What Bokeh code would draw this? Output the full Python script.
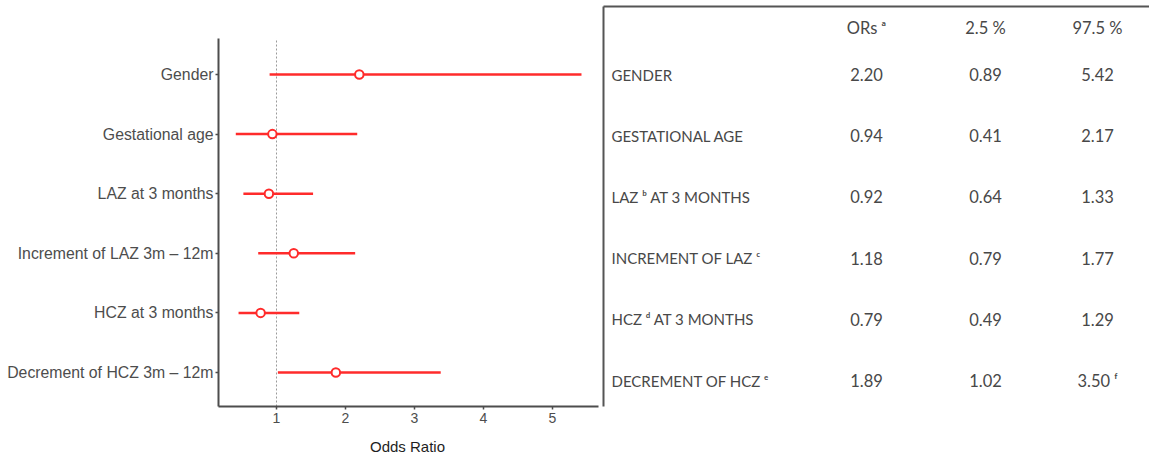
from bokeh.plotting import figure
from bokeh.models import Range1d, FixedTicker, ColumnDataSource, Arrow, Title
from bokeh.core.properties import value
from bokeh.embed import file_html
from bokeh.resources import INLINE

# ---- data ----
variables = ["Gender", "Gestational age", "LAZ at 3 months",
             "Increment of LAZ 3m \u2013 12m", "HCZ at 3 months",
             "Decrement of HCZ 3m \u2013 12m"]
odds = [2.20, 0.94, 0.89, 1.25, 0.77, 1.86]
lower = [0.90, 0.41, 0.52, 0.735, 0.45, 1.02]
upper = [5.42, 2.17, 1.53, 2.14, 1.33, 3.38]
x_ticks = [1, 2, 3, 4, 5]
ref_or = 1
x_title = "Odds Ratio"

table_labels = ["GENDER", "GESTATIONAL AGE", "LAZ \u1d47 AT 3 MONTHS",
                "INCREMENT OF LAZ \u1d9c", "HCZ \u1d48 AT 3 MONTHS",
                "DECREMENT OF HCZ \u1d49"]
table_headers = ["ORs \u1d43", "2.5 %", "97.5 %"]
table_ors = ["2.20", "0.94", "0.92", "1.18", "0.79", "1.89"]
table_lo = ["0.89", "0.41", "0.64", "0.79", "0.49", "1.02"]
table_hi = ["5.42", "2.17", "1.33", "1.77", "1.29", "3.50 \u1da0"]

RED = "#ff2b2b"
GREY = "#4d4d4d"
TXT = "#484848"

n = len(variables)
ypos = [n - i for i in range(n)]

# plot geometry (pixels)
W, H = 1149, 466
LEFT, BOTTOM = 218, 60
x_lo, x_hi = 0.1594, 5.667          # visible part of the odds-ratio axis
y_lo, y_hi = 0.4295, 6.604          # visible part of the category axis
px_per_x = 69.0
px_per_y = 59.6
frame_w = W - LEFT
frame_h = H - BOTTOM
title_w = 77                        # approx. rendered width of the x title

p = figure(width=W, height=H, output_backend="svg", toolbar_location=None,
           title=None,
           x_range=Range1d(x_lo, x_lo + frame_w / px_per_x),
           y_range=Range1d(y_lo, y_lo + frame_h / px_per_y),
           min_border_left=LEFT, min_border_right=0, min_border_top=0,
           min_border_bottom=BOTTOM)
p.outline_line_color = None
p.xgrid.visible = False
p.ygrid.visible = False

# pixel-like ranges for the table on the right
p.extra_x_ranges = {"px": Range1d(LEFT, W)}
p.extra_y_ranges = {"px": Range1d(frame_h, 0)}

# reference line at OR = 1
p.segment(x0=[ref_or], x1=[ref_or], y0=[y_lo], y1=[y_hi], line_color="#9a9a9a",
          line_dash="2 2", line_width=1)

src = ColumnDataSource(dict(y=ypos, odds=odds, lo=lower, hi=upper))
p.segment(x0="lo", x1="hi", y0="y", y1="y", source=src, line_color=RED, line_width=2.5)
p.scatter(x="odds", y="y", source=src, size=8.5, fill_color="white",
          line_color=RED, line_width=2)

p.xaxis.ticker = FixedTicker(ticks=x_ticks)
p.xaxis.bounds = (x_lo, x_hi)
p.yaxis.ticker = FixedTicker(ticks=ypos)
p.yaxis.bounds = (y_lo, y_hi)
p.yaxis.major_label_overrides = {yv: lab for yv, lab in zip(ypos, variables)}
for ax in (p.xaxis, p.yaxis):
    ax.axis_line_color = GREY
    ax.axis_line_width = 2
    ax.major_tick_line_color = GREY
    ax.major_tick_line_width = 1.5
    ax.major_tick_out = 3
    ax.major_tick_in = 0
    ax.minor_tick_line_color = None
    ax.major_label_text_font = "Liberation Sans"
    ax.major_label_text_color = GREY
p.yaxis.major_label_text_font_size = "15.8px"
p.yaxis.major_label_standoff = 2
p.xaxis.major_label_text_font_size = "14px"
p.xaxis.major_label_standoff = 3

# x-axis title centred under the forest-plot part of the axis
title_offset = ((x_lo + x_hi) / 2 - x_lo) * px_per_x - title_w / 2
p.add_layout(Title(text=x_title, align="left", offset=title_offset,
                   text_font="Liberation Sans", text_font_size="15px",
                   text_font_style="normal", text_color="#1e1e1e",
                   standoff=20), "below")

# ---- table ----
tab_left, tab_top = 603, 6
for xs, ys, xe, ye in ((tab_left, H, tab_left, tab_top), (tab_left, tab_top, W, tab_top)):
    p.add_layout(Arrow(end=None, start=None, x_start=xs, y_start=ys, x_end=xe, y_end=ye,
                       line_color="#555555", line_width=2,
                       x_range_name="px", y_range_name="px"))

col_x = [866, 985, 1097]
label_x = 611
header_y = 27
row_y = [74 + 61.2 * i for i in range(n)]
tfont = value("Lato")
common = dict(text_font=tfont, text_color=TXT, text_baseline="middle",
              x_range_name="px", y_range_name="px")

p.text(x=col_x, y=[header_y] * 3, text=table_headers, text_font_size="16.5px",
       text_align="center", **common)
p.text(x=[label_x] * n, y=row_y, text=table_labels, text_font_size="15px",
       text_align="left", **common)
for cx, col in zip(col_x, (table_ors, table_lo, table_hi)):
    p.text(x=[cx] * n, y=row_y, text=col, text_font_size="16.5px",
           text_align="center", **common)

open("out.html", "w").write(file_html(p, INLINE))
